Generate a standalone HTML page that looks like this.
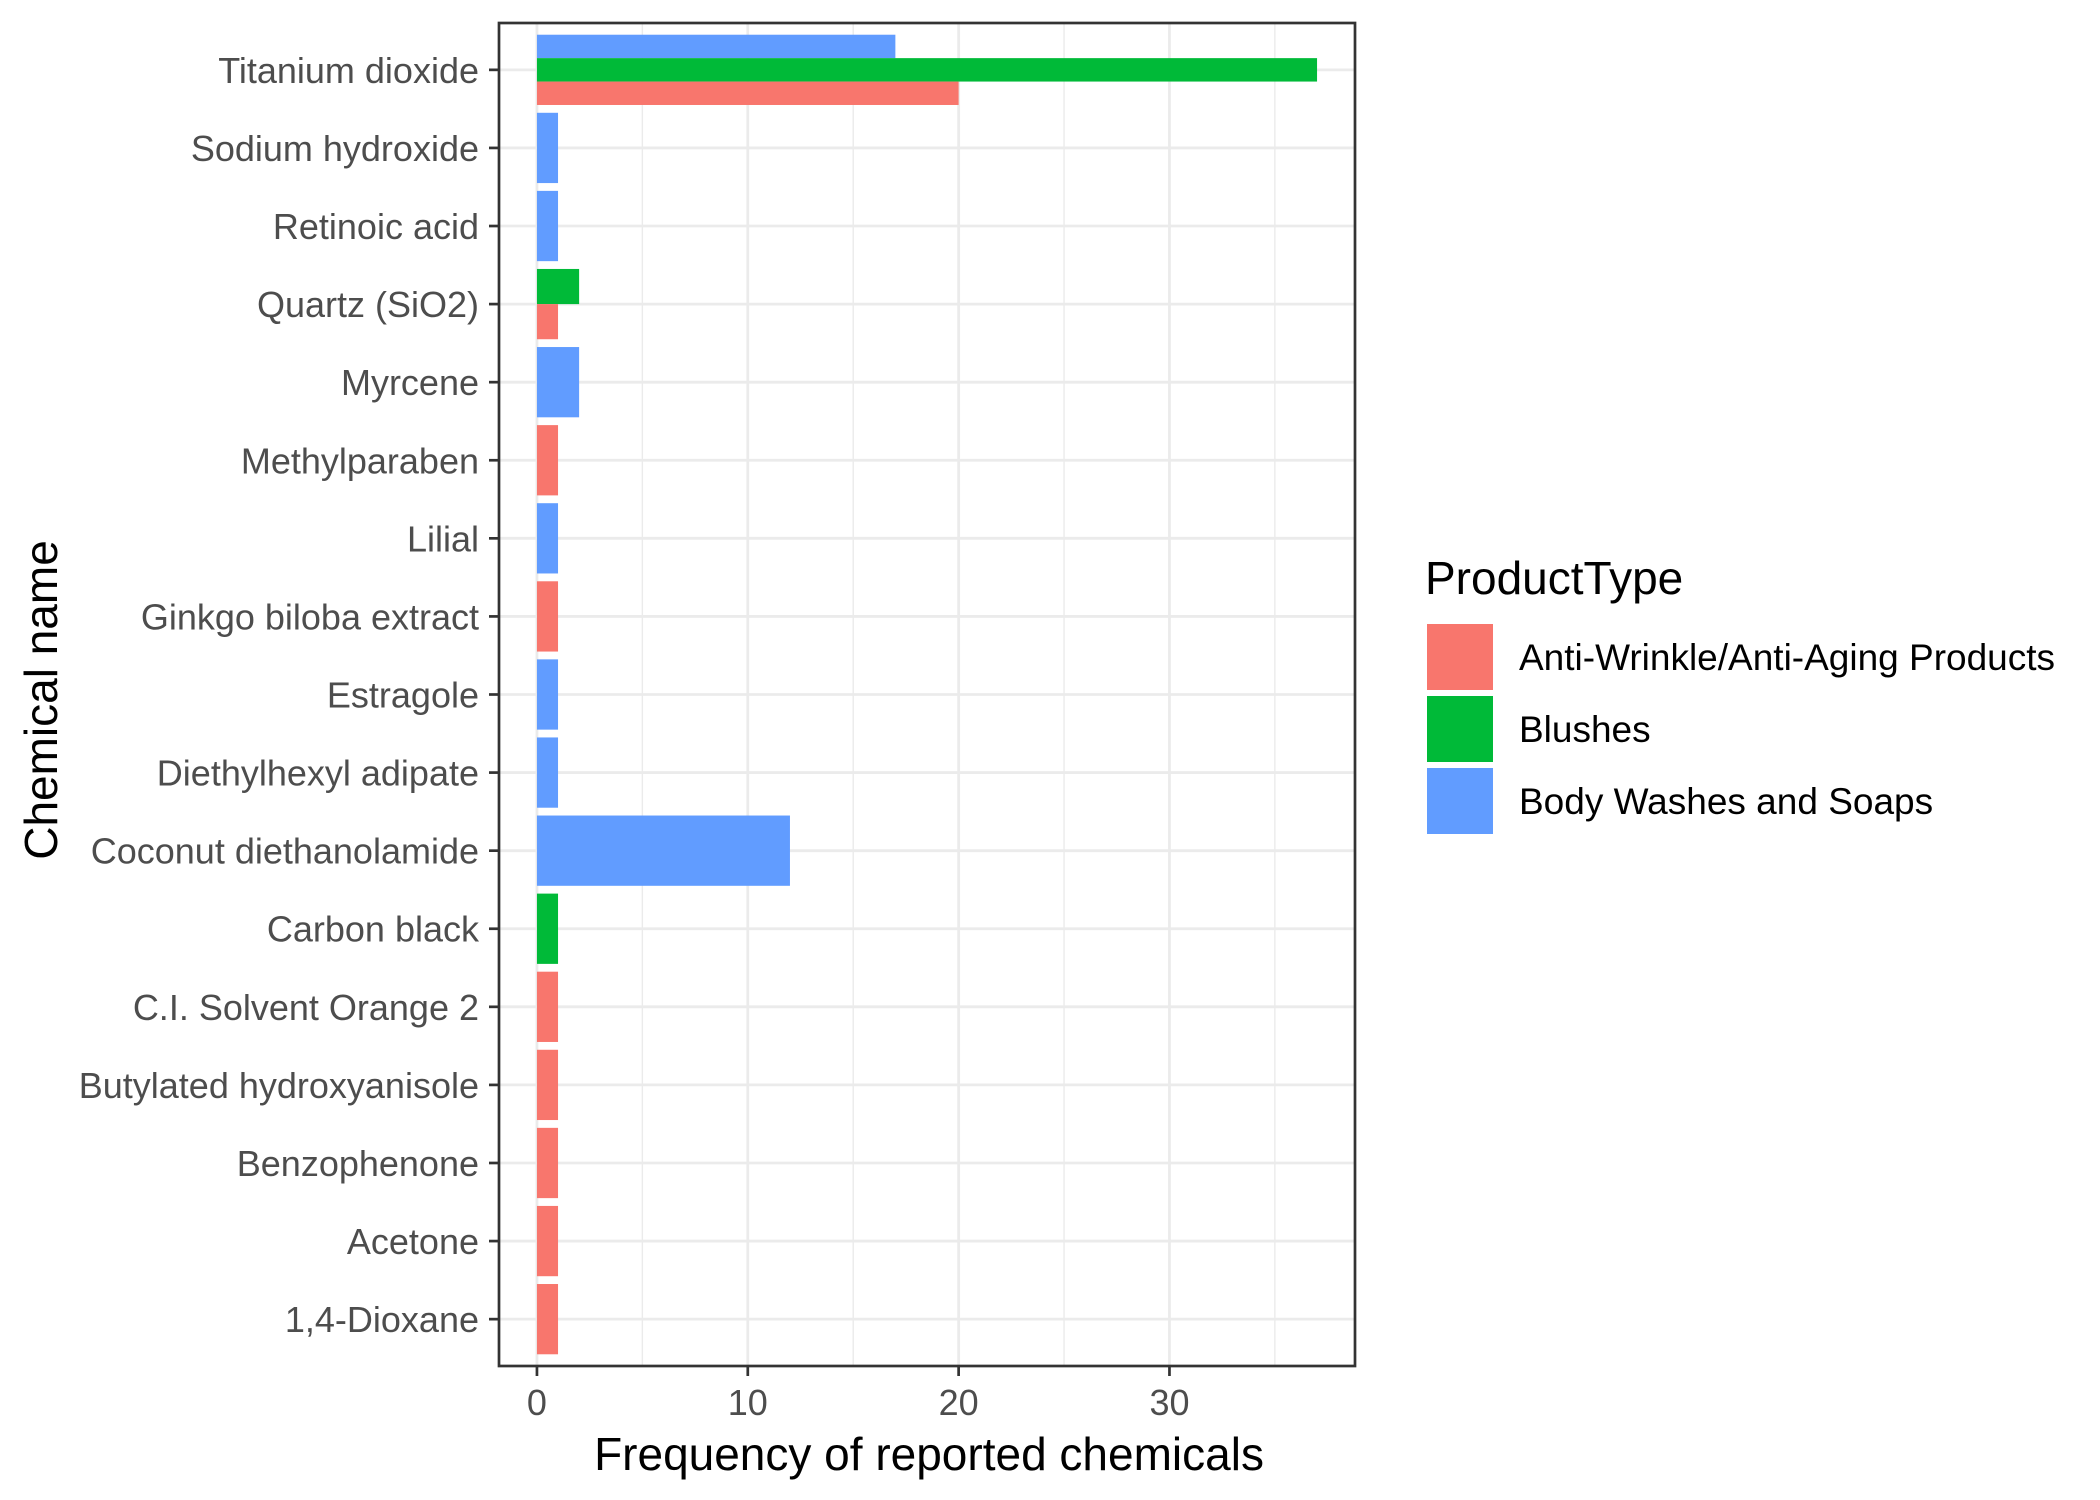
<!DOCTYPE html>
<html><head><meta charset="utf-8"><style>
html,body{margin:0;padding:0;background:#fff;}
svg{display:block;font-family:"Liberation Sans",Arial,sans-serif;}
</style></head><body>
<svg id="chart" width="2100" height="1500" viewBox="0 0 2100 1500" xmlns="http://www.w3.org/2000/svg">
<rect x="0" y="0" width="2100" height="1500" fill="#fff"/>
<g id="grid"></g>
<g id="bars"></g>
<rect x="499" y="23" width="856" height="1343" fill="none" stroke="#333" stroke-width="2.7"/>
<g id="yaxis"></g>
<g id="xaxis"></g>
<text x="929" y="1470" font-size="46" text-anchor="middle" fill="#000">Frequency of reported chemicals</text>
<text x="0" y="0" font-size="46" text-anchor="middle" fill="#000" transform="translate(57,700) rotate(-90)">Chemical name</text>
<g id="legend">
<text x="1425" y="594" font-size="46" fill="#000">ProductType</text>
</g>
</svg>
<script>
const categories = ["Titanium dioxide","Sodium hydroxide","Retinoic acid","Quartz (SiO2)","Myrcene","Methylparaben","Lilial","Ginkgo biloba extract","Estragole","Diethylhexyl adipate","Coconut diethanolamide","Carbon black","C.I. Solvent Orange 2","Butylated hydroxyanisole","Benzophenone","Acetone","1,4-Dioxane"];
const seriesNames = ["Anti-Wrinkle/Anti-Aging Products","Blushes","Body Washes and Soaps"];
const antiAging = [20,0,0,1,0,1,0,1,0,0,0,0,1,1,1,1,1];
const blushes   = [37,0,0,2,0,0,0,0,0,0,0,1,0,0,0,0,0];
const bodyWash  = [17,1,1,0,2,0,1,0,1,1,12,0,0,0,0,0,0];
const xTicks = [0,10,20,30];

const NS="http://www.w3.org/2000/svg";
const colors=["#F8766D","#00BA38","#619CFF"];
const series=[antiAging,blushes,bodyWash];
const PL=499,PR=1355,PT=23,PB=1366;
const xmin=-1.8,xmax=38.8;
const xs=v=>PL+(v-xmin)/(xmax-xmin)*(PR-PL);
const n=categories.length;
const step=(PB-PT)/(n+0.2);
const ys=i=>PT+step*(0.6+i);
function mk(tag,attrs,parent){const e=document.createElementNS(NS,tag);for(const k in attrs)e.setAttribute(k,attrs[k]);parent.appendChild(e);return e;}
const grid=document.getElementById('grid'),bars=document.getElementById('bars'),ya=document.getElementById('yaxis'),xa=document.getElementById('xaxis'),lg=document.getElementById('legend');
for(let v=5;v<xmax;v+=10){const l=mk('line',{x1:xs(v),x2:xs(v),y1:PT,y2:PB,stroke:'#ebebeb','stroke-width':1.4},grid);

}
xTicks.forEach(v=>{const l=mk('line',{x1:xs(v),x2:xs(v),y1:PT,y2:PB,stroke:'#ebebeb','stroke-width':2.8},grid);


const t=mk('line',{x1:xs(v),x2:xs(v),y1:PB,y2:PB+10,stroke:'#333','stroke-width':2.7},xa);


const tx=mk('text',{x:xs(v),y:PB+49,'font-size':36,'text-anchor':'middle',fill:'#4d4d4d'},xa);tx.textContent=v;

});
categories.forEach((c,i)=>{const y=ys(i);
const l=mk('line',{x1:PL,x2:PR,y1:y,y2:y,stroke:'#ebebeb','stroke-width':2.8},grid);


const t=mk('line',{x1:PL-10,x2:PL,y1:y,y2:y,stroke:'#333','stroke-width':2.7},ya);


const tx=mk('text',{x:PL-20,y:y+13,'font-size':36,'text-anchor':'end',fill:'#4d4d4d'},ya);tx.textContent=c;


const present=[];series.forEach((s,k)=>{if(s[i]>0)present.push(k);});
const total=step*0.9,h=total/present.length;
const order=present.slice().reverse();
order.forEach((k,j)=>{const top=y-total/2+j*h;
const r=mk('rect',{x:xs(0),y:top,width:xs(series[k][i])-xs(0),height:h,fill:colors[k]},bars);

});
});
seriesNames.forEach((s,k)=>{const top=624+k*72;
const r=mk('rect',{x:1427,y:top,width:66,height:66,fill:colors[k]},lg);


const t=mk('text',{x:1519,y:top+46,'font-size':37,fill:'#000'},lg);t.textContent=s;

});
</script>
</body></html>
